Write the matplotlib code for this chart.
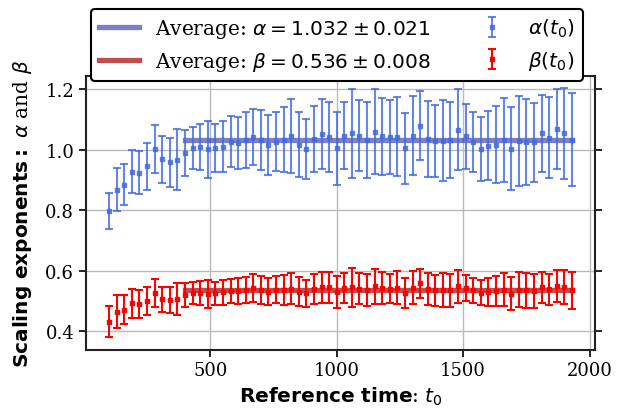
import matplotlib
matplotlib.use("Agg")
import matplotlib.pyplot as plt
import numpy as np

plt.rcParams['font.family'] = 'serif'
plt.rcParams['font.serif'] = ['DejaVu Serif']
plt.rcParams['mathtext.fontset'] = 'dejavusans'

# reference times t0 (every 30 from 100 to 1930)
t0 = np.arange(100, 1931, 30)

alpha_vals = [0.798, 0.868, 0.885, 0.927, 0.924, 0.945, 1.002, 0.968, 0.958, 0.967,
              0.989, 1.005, 1.009, 1.001, 1.006, 1.010, 1.026, 1.023, 1.033, 1.043,
              1.031, 1.015, 1.027, 1.033, 1.046, 1.017, 1.003, 1.036, 1.051, 1.043,
              1.004, 1.046, 1.054, 1.046, 1.032, 1.060, 1.044, 1.041, 1.043, 1.005,
              1.046, 1.079, 1.035, 1.029, 1.030, 1.032, 1.066, 1.044, 1.025, 1.001,
              1.013, 1.017, 1.032, 1.003, 1.030, 1.024, 1.024, 1.054, 1.040, 1.068,
              1.054, 1.033]
alpha_err = [0.059, 0.070, 0.068, 0.071, 0.072, 0.077, 0.079, 0.077, 0.080, 0.100,
             0.075, 0.069, 0.077, 0.093, 0.079, 0.085, 0.084, 0.086, 0.092, 0.093,
             0.099, 0.099, 0.096, 0.108, 0.123, 0.106, 0.100, 0.109, 0.115, 0.116,
             0.119, 0.110, 0.148, 0.117, 0.125, 0.140, 0.127, 0.122, 0.130, 0.117,
             0.131, 0.114, 0.125, 0.120, 0.133, 0.127, 0.134, 0.108, 0.100, 0.106,
             0.114, 0.127, 0.138, 0.137, 0.149, 0.142, 0.131, 0.127, 0.133, 0.131,
             0.150, 0.154]

beta_vals = [0.432, 0.465, 0.472, 0.492, 0.490, 0.501, 0.527, 0.506, 0.503, 0.507,
             0.520, 0.527, 0.527, 0.524, 0.525, 0.529, 0.534, 0.533, 0.536, 0.543,
             0.537, 0.531, 0.537, 0.537, 0.541, 0.531, 0.525, 0.539, 0.546, 0.545,
             0.530, 0.544, 0.545, 0.541, 0.537, 0.549, 0.543, 0.541, 0.544, 0.527,
             0.544, 0.558, 0.539, 0.535, 0.536, 0.535, 0.549, 0.543, 0.535, 0.527,
             0.531, 0.534, 0.537, 0.524, 0.537, 0.535, 0.534, 0.546, 0.539, 0.549,
             0.545, 0.535]
beta_err = [0.051, 0.054, 0.049, 0.048, 0.045, 0.046, 0.046, 0.041, 0.043, 0.054,
            0.040, 0.037, 0.040, 0.046, 0.039, 0.042, 0.039, 0.042, 0.044, 0.045,
            0.046, 0.045, 0.045, 0.050, 0.052, 0.048, 0.044, 0.049, 0.051, 0.052,
            0.052, 0.050, 0.064, 0.051, 0.052, 0.058, 0.053, 0.049, 0.055, 0.049,
            0.054, 0.048, 0.052, 0.050, 0.055, 0.055, 0.055, 0.044, 0.040, 0.041,
            0.046, 0.050, 0.055, 0.055, 0.058, 0.058, 0.056, 0.051, 0.051, 0.052,
            0.056, 0.060]

alpha_avg, alpha_avg_err = 1.032, 0.021
beta_avg, beta_avg_err = 0.536, 0.008
avg_start = 400  # averaging window starts here

fig = plt.figure(figsize=(6.28, 4.10), dpi=100)
ax = fig.add_axes([86 / 628, 59.5 / 410, 509 / 628, 274 / 410])

mask = t0 >= avg_start
l1, = ax.plot(t0[mask], [alpha_avg] * mask.sum(), color='darkblue', alpha=0.5, lw=3.8,
              label=r'Average: $\alpha = %.3f \pm %.3f$' % (alpha_avg, alpha_avg_err))
l2, = ax.plot(t0[mask], [beta_avg] * mask.sum(), color='firebrick', alpha=0.8, lw=3.8,
              label=r'Average: $\beta = %.3f \pm %.3f$' % (beta_avg, beta_avg_err))

e1 = ax.errorbar(t0, alpha_vals, yerr=alpha_err, fmt='s', color='royalblue', alpha=0.8,
                 ms=3.5, capsize=2.7, elinewidth=1.5, capthick=1.5, label=r'$\alpha(t_0)$')
e2 = ax.errorbar(t0, beta_vals, yerr=beta_err, fmt='s', color='red',
                 ms=3.5, capsize=2.7, elinewidth=1.5, capthick=1.5, label=r'$\beta(t_0)$')

ax.grid(True, color='#bbbbbb', lw=1)
ax.set_axisbelow(True)
ax.tick_params(axis='both', direction='out', length=5, width=1.2, labelsize=13)
ax.tick_params(axis='y', right=True)
for s in ax.spines.values():
    s.set_linewidth(1.5)
    s.set_color('#222222')

ax.set_xticks([500, 1000, 1500, 2000])
ax.set_yticks([0.4, 0.6, 0.8, 1.0, 1.2])
ax.set_xlabel(r'$\bf{Reference\ time}$: $t_0$', fontsize=14.5, labelpad=4)
ax.set_ylabel(r'$\bf{Scaling\ exponents:}$ $\alpha$ and $\beta$', fontsize=14.5, labelpad=8)

leg = ax.legend(handles=[l1, l2, e1, e2], ncol=2, loc='upper left',
                bbox_to_anchor=(0.0098, 1.2427), borderaxespad=0, fontsize=14.5,
                framealpha=1, edgecolor='black', fancybox=True)
leg.get_frame().set_linewidth(1.5)

fig.savefig('out.png', dpi=100)
